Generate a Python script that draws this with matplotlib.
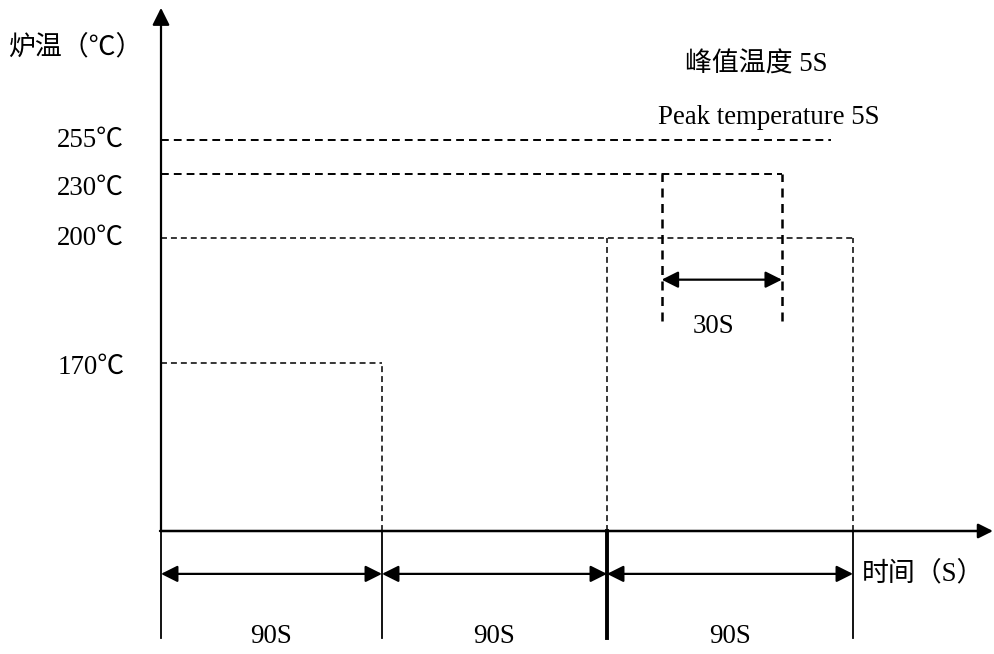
import numpy as np
import matplotlib
matplotlib.use("Agg")
import matplotlib.pyplot as plt
import matplotlib.transforms as mtransforms

plt.rcParams['font.family'] = ['Liberation Serif', 'Noto Sans CJK SC']

# reflow profile (schematic, values as drawn)
segment_edges = [0, 90, 180, 270]
segment_labels = ['90S', '90S', '90S']
levels = [255, 230, 200, 170]
level_labels = ['255℃', '230℃', '200℃', '170℃']
level_ends = [262, 244, 270, 90]
drops = [(90, 170), (180, 200), (270, 200)]
peak_window = (200, 244)
peak_label = '30S'

# schematic scales: the drawing is not to scale
T_KNOTS = [-200, 0, 90, 180, 270, 500]
PX_KNOTS = [-329, 161, 382, 607, 853, 1419]
C_KNOTS = [-400, 0, 170, 200, 230, 255, 500]
H_KNOTS = [-277, 123, 291, 416, 480, 514, 852]


def fx(t):
    return np.interp(t, T_KNOTS, PX_KNOTS)


def ix(p):
    return np.interp(p, PX_KNOTS, T_KNOTS)


def fy(c):
    return np.interp(c, C_KNOTS, H_KNOTS)


def iy(h):
    return np.interp(h, H_KNOTS, C_KNOTS)


FS = 19.4
fig = plt.figure(figsize=(9.94, 6.54), dpi=100)
ax = fig.add_axes([0, 0, 1, 1])
ax.set_xscale('function', functions=(fx, ix))
ax.set_yscale('function', functions=(fy, iy))
ax.set_xlim(ix(0), ix(994))
ax.set_ylim(iy(0), iy(654))
ax.axis('off')

xa = mtransforms.blended_transform_factory(ax.transData, ax.transAxes)
ay = mtransforms.blended_transform_factory(ax.transAxes, ax.transData)

# axes with arrows
ax.annotate('', xy=(0.999, 0), xycoords=ay, xytext=(0.161, 0), textcoords=ay,
            arrowprops=dict(arrowstyle='-|>', lw=1.8, color='black',
                            mutation_scale=22, shrinkA=0, shrinkB=0))
ax.annotate('', xy=(0, 0.988), xycoords=xa, xytext=(0, 0), textcoords='data',
            arrowprops=dict(arrowstyle='-|>', lw=1.6, color='black',
                            mutation_scale=26, shrinkA=0, shrinkB=0))

# temperature levels
for lev, lab, end in zip(levels, level_labels, level_ends):
    heavy = lev >= 230
    ax.plot([0, end], [lev, lev], color='black',
            lw=1.4 if heavy else 1.1,
            dashes=(4, 2.6) if heavy else (3.9, 2.6))
    dy = -10 if lev == 230 else (-3 if lev == 170 else 0)
    ax.annotate(lab, xy=(0.125, lev), xycoords=ay, xytext=(0, dy),
                textcoords='offset points', ha='right', va='center', fontsize=FS)

for t, lev in drops:
    ax.plot([t, t], [0, lev], color='black', lw=1.1, dashes=(3.9, 2.6))

# peak window
for t in peak_window:
    ax.plot([t, t], [180, 230], color='black', lw=1.8, dashes=(3.6, 2.6))
ax.annotate('', xy=(peak_window[1], 190), xytext=(peak_window[0], 190),
            arrowprops=dict(arrowstyle='<|-|>', lw=1.6, color='black',
                            mutation_scale=25, shrinkA=0, shrinkB=0))
ax.annotate(peak_label, xy=((peak_window[0] + peak_window[1]) / 2, 180),
            xytext=(-6, -4), textcoords='offset points',
            ha='center', va='center', fontsize=FS)

# time segments under the axis
for i, t in enumerate(segment_edges):
    ax.plot([t, t], [0.025, 0.188], transform=xa, color='black',
            lw=2.8 if i == 2 else 1.3)
for a, b, lab in zip(segment_edges[:-1], segment_edges[1:], segment_labels):
    ax.annotate('', xy=(b, 0.1225), xycoords=xa, xytext=(a, 0.1225), textcoords=xa,
                arrowprops=dict(arrowstyle='<|-|>', lw=1.6, color='black',
                                mutation_scale=25, shrinkA=0, shrinkB=0))
    ax.text((a + b) / 2, 0.026, lab, transform=xa, ha='center', va='center',
            fontsize=FS)

# titles
ax.text(0.008, 0.927, '炉温（℃）', transform=ax.transAxes, ha='left', va='center',
        fontsize=FS)
ax.text(0.867, 0.1225, '时间（S）', transform=ax.transAxes, ha='left', va='center',
        fontsize=FS)
ax.text(0.761, 0.900, '峰值温度 5S', transform=ax.transAxes, ha='center',
        va='center', fontsize=FS)
ax.text(0.773, 0.820, 'Peak temperature 5S', transform=ax.transAxes, ha='center',
        va='center', fontsize=FS)

fig.savefig('out.png', dpi=100)
